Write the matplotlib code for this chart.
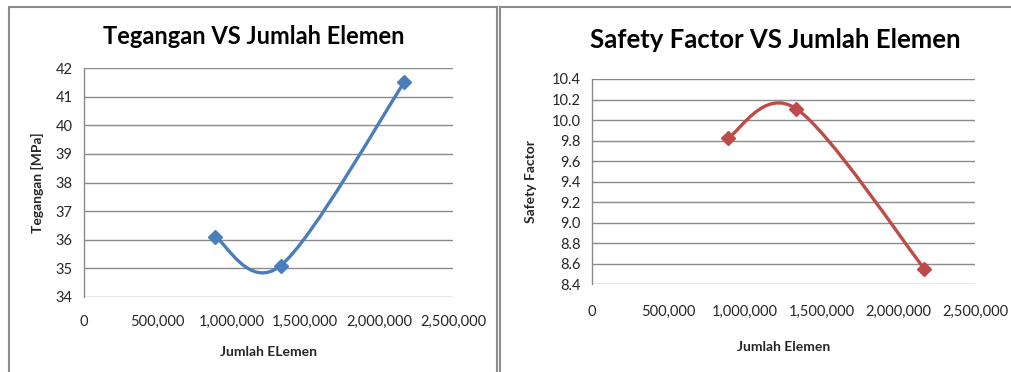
import numpy as np
import matplotlib
matplotlib.use("Agg")
import matplotlib.pyplot as plt
from matplotlib.path import Path
from matplotlib.patches import PathPatch, Rectangle
from matplotlib.ticker import FuncFormatter

plt.rcParams['font.family'] = ['Lato', 'DejaVu Sans']

# Data
jumlah_elemen = [890000, 1335000, 2170000]
tegangan = [36.1, 35.1, 41.5]
safety_factor = [9.83, 10.11, 8.55]

x_ticks = [0, 500000, 1000000, 1500000, 2000000, 2500000]
teg_ticks = [34, 35, 36, 37, 38, 39, 40, 41, 42]
sf_ticks = [8.4, 8.6, 8.8, 9.0, 9.2, 9.4, 9.6, 9.8, 10.0, 10.2, 10.4]

BLUE = '#4a7ebb'
RED = '#be4b48'
GRID = '#8a8a8a'
FRAME = '#8c8c8c'


def smooth_path(xs, ys):
    """Cubic Bezier through the points (Catmull-Rom style, tension 1/6)."""
    pts = np.column_stack([xs, ys]).astype(float)
    n = len(pts)
    verts = [pts[0]]
    codes = [Path.MOVETO]
    for i in range(n - 1):
        p_prev = pts[i - 1] if i > 0 else pts[i]
        p0, p1 = pts[i], pts[i + 1]
        p_next = pts[i + 2] if i + 2 < n else pts[i + 1]
        c1 = p0 + (p1 - p_prev) / 6.0
        c2 = p1 - (p_next - p0) / 6.0
        verts += [c1, c2, p1]
        codes += [Path.CURVE4] * 3
    return Path(verts, codes)


def style_axes(ax, yticks, yfmt, xlabel, ylabel, xlabel_y, ylabel_x, xpad):
    ax.set_xlim(0, 2500000)
    ax.set_ylim(yticks[0], yticks[-1])
    ax.set_xticks(x_ticks)
    ax.set_yticks(yticks)
    ax.xaxis.set_major_formatter(FuncFormatter(lambda v, p: f"{int(v):,}"))
    ax.yaxis.set_major_formatter(FuncFormatter(yfmt))
    ax.grid(axis='y', color=GRID, linewidth=1.0)
    ax.set_axisbelow(True)
    for s in ['top', 'right', 'bottom']:
        ax.spines[s].set_visible(False)
    ax.spines['left'].set_color(GRID)
    ax.spines['left'].set_linewidth(1.0)
    ax.tick_params(axis='both', length=0, labelsize=10.5, colors='#262626')
    ax.tick_params(axis='x', pad=xpad)
    ax.tick_params(axis='y', pad=8)
    ax.set_xlabel(xlabel, fontsize=10, fontweight='bold', color='#262626')
    ax.xaxis.set_label_coords(0.5, xlabel_y)
    ax.set_ylabel(ylabel, fontsize=10, fontweight='bold', color='#262626')
    ax.yaxis.set_label_coords(ylabel_x, 0.5)


fig = plt.figure(figsize=(10.11, 3.72), dpi=100)

# chart frames
fig.patches.append(Rectangle((8.5 / 1011, -0.1), (497 - 8.5) / 1011, 1.1 - 6.5 / 372,
                             transform=fig.transFigure, fill=False,
                             edgecolor=FRAME, linewidth=1.5))
fig.patches.append(Rectangle((499.5 / 1011, -0.1), 0.6, 1.1 - 6.5 / 372,
                             transform=fig.transFigure, fill=False,
                             edgecolor=FRAME, linewidth=1.5))

# Left chart: stress
ax1 = fig.add_axes([83.5 / 1011, 1 - 297 / 372, (453 - 83.5) / 1011, (297 - 68) / 372])
style_axes(ax1, teg_ticks, lambda v, p: f"{int(round(v))}",
           'Jumlah ELemen', 'Tegangan [MPa]', -0.215, -0.107, 13)
ax1.add_patch(PathPatch(smooth_path(jumlah_elemen, tegangan), facecolor='none',
                        edgecolor=BLUE, linewidth=2.4, capstyle='round'))
ax1.plot(jumlah_elemen, tegangan, linestyle='none', marker='D', markersize=7,
         color=BLUE, clip_on=False)
fig.text(254 / 1011, 1 - 36 / 372, 'Tegangan VS Jumlah Elemen', ha='center',
         va='center', fontsize=17, fontweight='bold', color='black')

# Right chart: safety factor
ax2 = fig.add_axes([591.7 / 1011, 1 - 284.3 / 372, (975 - 591.7) / 1011, (284.3 - 79) / 372])
style_axes(ax2, sf_ticks, lambda v, p: f"{v:.1f}",
           'Jumlah Elemen', 'Safety Factor', -0.275, -0.144, 15)
ax2.add_patch(PathPatch(smooth_path(jumlah_elemen, safety_factor), facecolor='none',
                        edgecolor=RED, linewidth=2.4, capstyle='round'))
ax2.plot(jumlah_elemen, safety_factor, linestyle='none', marker='D', markersize=7,
         color=RED, clip_on=False)
fig.text(775 / 1011, 1 - 40 / 372, 'Safety Factor VS Jumlah Elemen', ha='center',
         va='center', fontsize=18.5, fontweight='bold', color='black')

fig.savefig('out.png', dpi=100, facecolor='white')
